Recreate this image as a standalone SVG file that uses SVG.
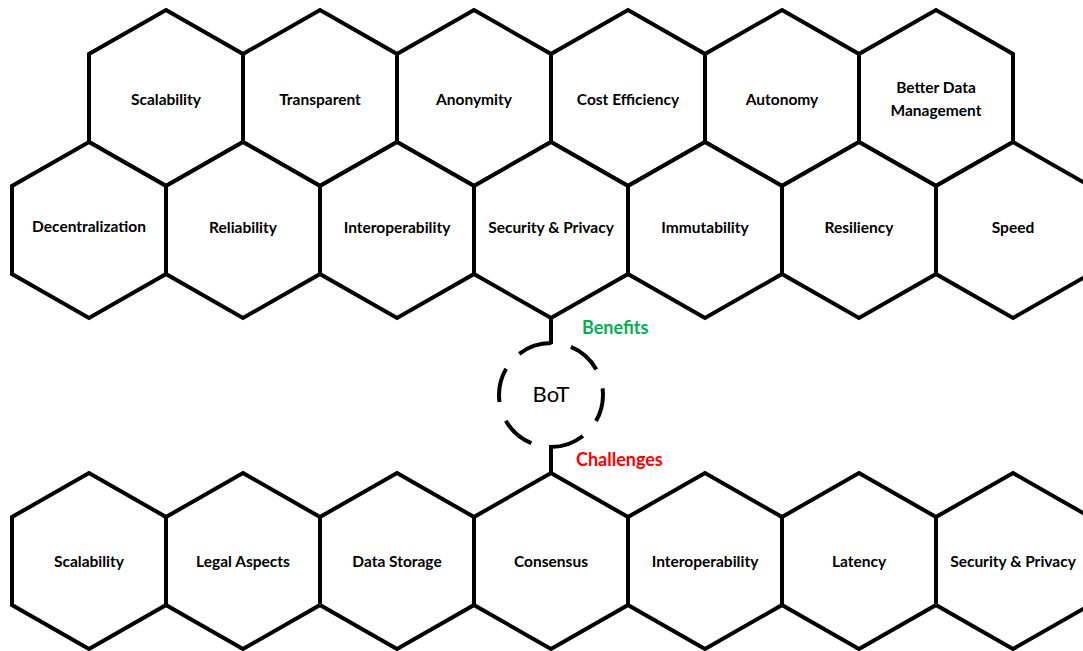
<svg xmlns="http://www.w3.org/2000/svg" xmlns:xlink="http://www.w3.org/1999/xlink" width="1083" height="651" viewBox="0 0 1083 651">
<style>
.hex{fill:#fff;stroke:#000;stroke-width:4;stroke-linejoin:miter}
.lbl{font-family:Lato,"Liberation Sans",sans-serif;font-weight:bold;font-size:15.5px;fill:#000;text-anchor:middle}
.conn{stroke:#000;stroke-width:4;fill:none}
.cat{font-family:Lato,"Liberation Sans",sans-serif;font-weight:bold;font-size:18px;text-anchor:start}
</style>
<defs>
<polygon id="hex" class="hex" points="0,-88 77,-44 77,44 0,88 -77,44 -77,-44"/>
</defs>
<rect width="1083" height="651" fill="#fff"/>
<g id="benefits">
<g id="b-scalability"><use href="#hex" x="166" y="98"/><text class="lbl" x="166" y="105">Scalability</text></g>
<g id="b-transparent"><use href="#hex" x="320" y="98"/><text class="lbl" x="320" y="105">Transparent</text></g>
<g id="b-anonymity"><use href="#hex" x="474" y="98"/><text class="lbl" x="474" y="105">Anonymity</text></g>
<g id="b-cost"><use href="#hex" x="628" y="98"/><text class="lbl" x="628" y="105">Cost Efficiency</text></g>
<g id="b-autonomy"><use href="#hex" x="782" y="98"/><text class="lbl" x="782" y="105">Autonomy</text></g>
<g id="b-bdm"><use href="#hex" x="936" y="98"/><text class="lbl" x="936" y="93">Better Data</text><text class="lbl" x="936" y="116">Management</text></g>
<g id="b-decentralization"><use href="#hex" x="89" y="230"/><text class="lbl" x="89" y="232">Decentralization</text></g>
<g id="b-reliability"><use href="#hex" x="243" y="230"/><text class="lbl" x="243" y="233">Reliability</text></g>
<g id="b-interoperability"><use href="#hex" x="397" y="230"/><text class="lbl" x="397" y="233">Interoperability</text></g>
<g id="b-security"><use href="#hex" x="551" y="230"/><text class="lbl" x="551" y="233">Security &amp; Privacy</text></g>
<g id="b-immutability"><use href="#hex" x="705" y="230"/><text class="lbl" x="705" y="233">Immutability</text></g>
<g id="b-resiliency"><use href="#hex" x="859" y="230"/><text class="lbl" x="859" y="233">Resiliency</text></g>
<g id="b-speed"><use href="#hex" x="1013" y="230"/><text class="lbl" x="1013" y="233">Speed</text></g>
</g>
<g id="challenges">
<g id="c-scalability"><use href="#hex" x="89" y="561"/><text class="lbl" x="89" y="567">Scalability</text></g>
<g id="c-legal"><use href="#hex" x="243" y="561"/><text class="lbl" x="243" y="567">Legal Aspects</text></g>
<g id="c-storage"><use href="#hex" x="397" y="561"/><text class="lbl" x="397" y="567">Data Storage</text></g>
<g id="c-consensus"><use href="#hex" x="551" y="561"/><text class="lbl" x="551" y="567">Consensus</text></g>
<g id="c-interoperability"><use href="#hex" x="705" y="561"/><text class="lbl" x="705" y="567">Interoperability</text></g>
<g id="c-latency"><use href="#hex" x="859" y="561"/><text class="lbl" x="859" y="567">Latency</text></g>
<g id="c-security"><use href="#hex" x="1013" y="561"/><text class="lbl" x="1013" y="567">Security &amp; Privacy</text></g>
</g>
<g id="connectors">
<line class="conn" x1="551" y1="318" x2="551" y2="344"/>
<line class="conn" x1="551" y1="445" x2="551" y2="473"/>
</g>
<g id="bot">
<circle cx="551" cy="395" r="52" fill="none" stroke="#000" stroke-width="4" stroke-dasharray="34.49 19.97" stroke-dashoffset="7.26"/>
<text x="551" y="402" font-family="Lato,'Liberation Sans',sans-serif" font-size="22" text-anchor="middle" fill="#000">BoT</text>
</g>
<text class="cat" x="582" y="334" fill="#00B050">Benefits</text>
<text class="cat" x="576" y="466" fill="#FF0000">Challenges</text>
</svg>
